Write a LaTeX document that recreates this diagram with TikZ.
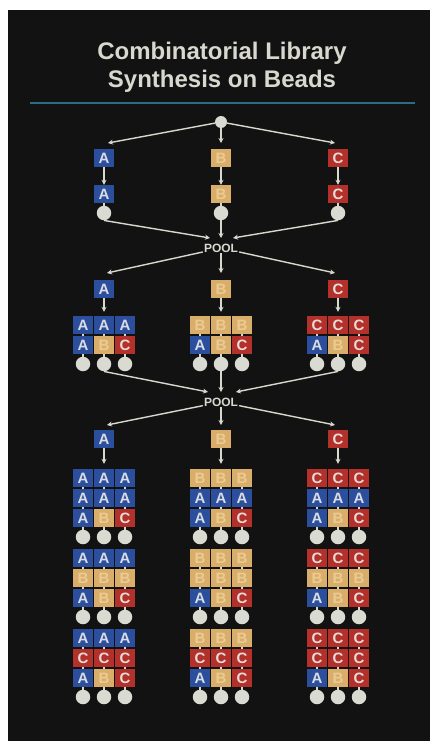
\documentclass[tikz,border=0pt]{standalone}
\usepackage{fontspec}
\setmainfont{Liberation Sans}
\usetikzlibrary{arrows.meta,backgrounds}
\definecolor{cBack}{HTML}{121212}
\definecolor{cInk}{HTML}{D8D8CF}
\definecolor{cRule}{HTML}{2B6C80}
\definecolor{cA}{HTML}{2B4F9D}
\definecolor{cB}{HTML}{D9AE6B}
\definecolor{cC}{HTML}{B3302B}
\definecolor{tA}{HTML}{DCDCE4}
\definecolor{tB}{HTML}{EBCB92}
\definecolor{tC}{HTML}{E8DCD8}
\definecolor{cBead}{HTML}{D9DBD2}
\tikzset{
  >={Stealth[length=5pt,width=5pt]},
  arr/.style={->, draw=cInk, line width=1.4pt},
  link/.style={draw=cInk, line width=1.4pt},
  bx/.style={rectangle, fill=c#1, text=t#1, minimum width=19.5pt, minimum height=18pt,
             inner sep=0, font=\fontsize{15}{15}\selectfont\bfseries},
  bead/.style={circle, fill=cBead, minimum size=14.5pt, inner sep=0},
  pool/.style={text=cInk, inner sep=1pt, font=\fontsize{12}{12}\selectfont\bfseries},
  ttl/.style={text=cInk, anchor=base, inner sep=0, font=\fontsize{24}{24}\selectfont\bfseries},
}

\begin{document}
\begin{tikzpicture}[x=1pt, y=-1pt]
  % page
  \useasboundingbox (0,0) rectangle (430,741);
  \begin{scope}[on background layer]
    \fill[white] (0,0) rectangle (430,741);
    \fill[cBack] (8,10) rectangle (430,741);
  \end{scope}
  % title
  \node[ttl] (title1) at (222,60) {Combinatorial Library};
  \node[ttl] (title2) at (222,88) {Synthesis on Beads};
  \draw[cRule, line width=2pt] (30,103) -- (415,103);
  % step 1: split and couple
  \node[bead, minimum size=12pt] (bead0) at (221,122) {};
  \foreach \g/\gx/\tx in {A/104/108, B/221/221, C/338/335} {
    \coordinate (s1-\g-t) at (\tx,143);
    \node[bx=\g] (s1-\g-r) at (\gx,158) {\g};
    \node[bx=\g] (s1-\g-1) at (\gx,194) {\g};
    \node[bead] (s1-\g-b) at (\gx,213) {};
    \draw[arr] (bead0) -- (s1-\g-t);
    \draw[arr] (s1-\g-r) -- (s1-\g-1);
    \begin{scope}[on background layer]
      \draw[link] (s1-\g-1) -- (s1-\g-b);
    \end{scope}
  }
  % pool 1
  \node[pool] (pool1) at (221,248) {POOL};
  \foreach \g/\ix/\tx in {A/210/107, B/221/221, C/233/335} {
    \coordinate (p1-\g) at (\ix,238);
    \coordinate (s2-\g-t) at (\tx,273);
    \draw[arr] (s1-\g-b.south) -- (p1-\g);
    \draw[arr] (pool1) -- (s2-\g-t);
  }
  % step 2
  \foreach \g/\gx in {A/104, B/221, C/338} {
    \node[bx=\g] (s2-\g-r) at (\gx,289) {\g};
    \foreach \c [count=\i] in {A,B,C} {
      \node[bx=\g] (s2-\g-\c-1) at ({\gx+(\i-2)*21},325) {\g};
      \node[bx=\c] (s2-\g-\c-2) at ({\gx+(\i-2)*21},345) {\c};
      \node[bead] (s2-\g-\c-b) at ({\gx+(\i-2)*21},364) {};
      \begin{scope}[on background layer]
        \draw[link] (s2-\g-\c-1) -- (s2-\g-\c-b);
      \end{scope}
    }
    \draw[arr, shorten >=4pt] (s2-\g-r) -- (s2-\g-B-1);
  }
  % pool 2
  \node[pool] (pool2) at (221,402) {POOL};
  \foreach \g/\ix/\tx in {A/208/107, B/221/221, C/236/335} {
    \coordinate (p2-\g) at (\ix,392);
    \coordinate (s3-\g-t) at (\tx,425);
    \draw[arr] (s2-\g-B-b.south) -- (p2-\g);
    \draw[arr] (pool2) -- (s3-\g-t);
  }
  % step 3
  \foreach \g/\gx in {A/104, B/221, C/338} {
    \node[bx=\g] (s3-\g-r) at (\gx,439) {\g};
    \foreach \m [count=\k] in {A,B,C} {
      \foreach \c [count=\i] in {A,B,C} {
        \node[bx=\g] (s3-\g\m-\c-1) at ({\gx+(\i-2)*21},{478+(\k-1)*80}) {\g};
        \node[bx=\m] (s3-\g\m-\c-2) at ({\gx+(\i-2)*21},{498+(\k-1)*80}) {\m};
        \node[bx=\c] (s3-\g\m-\c-3) at ({\gx+(\i-2)*21},{518+(\k-1)*80}) {\c};
        \node[bead] (s3-\g\m-\c-b) at ({\gx+(\i-2)*21},{537+(\k-1)*80}) {};
        \begin{scope}[on background layer]
          \draw[link] (s3-\g\m-\c-1) -- (s3-\g\m-\c-b);
        \end{scope}
      }
    }
    \draw[arr, shorten >=5pt] (s3-\g-r) -- (s3-\g A-B-1);
  }
\end{tikzpicture}
\end{document}
